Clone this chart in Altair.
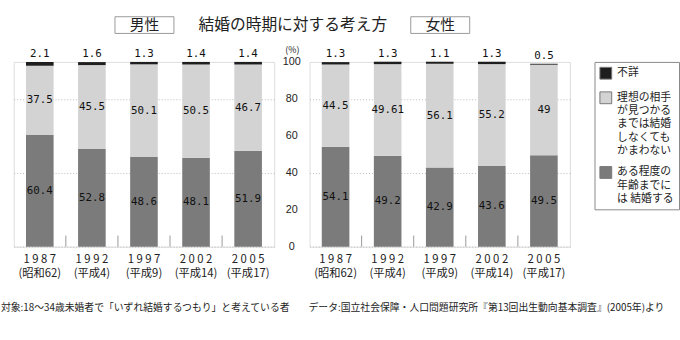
import altair as alt
import pandas as pd

FONT = "Noto Sans CJK JP"
NUMFONT = "DejaVu Sans Mono"

years = ["1987", "1992", "1997", "2002", "2005"]
eras = ["(昭和62)", "(平成4)", "(平成9)", "(平成14)", "(平成17)"]
categories = ["不詳",
              "理想の相手|が見つかる|までは結婚|しなくても|かまわない",
              "ある程度の|年齢までに|は 結婚する"]
male_unknown = [2.1, 1.6, 1.3, 1.4, 1.4]
male_ideal = [37.5, 45.5, 50.1, 50.5, 46.7]
male_someage = [60.4, 52.8, 48.6, 48.1, 51.9]
female_unknown = [1.3, 1.3, 1.1, 1.3, 0.5]
female_ideal = [44.5, 49.61, 56.1, 55.2, 49]
female_someage = [54.1, 49.2, 42.9, 43.6, 49.5]
y_ticks = [0, 20, 40, 60, 80, 100]
panel_names = ["男性", "女性"]
title_text = "結婚の時期に対する考え方"
note_left = "対象:18～34歳未婚者で「いずれ結婚するつもり」と考えている者"
note_right = "データ:国立社会保障・人口問題研究所『第13回出生動向基本調査』(2005年)より"
colors = ["#1e1e1e", "#d3d3d3", "#7b7b7b"]

W, H = 265, 188


def frame(unknown, ideal, someage):
    rows = []
    for i, y in enumerate(years):
        xl = " ".join(y) + "|" + eras[i]
        base = 0.0
        for cat, v, order in [(categories[2], someage[i], 0),
                              (categories[1], ideal[i], 1),
                              (categories[0], unknown[i], 2)]:
            rows.append(dict(x=xl, idx=i, cat=cat, v=v, y0=base, y1=base + v,
                             mid=base + v / 2, order=order, label=f"{v:g}"))
            base += v
    return pd.DataFrame(rows)


def panel(df, name, show_labels, note, note_x, extra=None):
    x_enc = alt.X("x:N", sort=None,
                  scale=alt.Scale(paddingInner=0.47, paddingOuter=0.235),
                  axis=alt.Axis(title=None, labelExpr="split(datum.label,'|')",
                                domain=False, ticks=False, labelAngle=0,
                                labelFont=FONT, labelFontSize=11.5,
                                labelLineHeight=14, labelPadding=7,
                                labelColor="#222", labelBaseline="top"))
    y_scale = alt.Scale(domain=[0, 100], nice=False)
    if show_labels:
        y_axis = alt.Axis(values=y_ticks, grid=True,
                          gridDash=[1, 2], gridColor="#bbbbbb", domain=False,
                          ticks=False, labels=False,
                          title="(%)", titleAngle=0, titleX=-18, titleY=-8,
                          titleAlign="center", titleBaseline="bottom",
                          titleFont=FONT, titleFontSize=9, titleFontWeight="normal",
                          titleColor="#222")
    else:
        y_axis = alt.Axis(values=y_ticks, grid=True,
                          gridDash=[1, 2], gridColor="#bbbbbb", domain=False,
                          ticks=False, labels=False, title=None)
    base = alt.Chart(df)
    bars = base.mark_bar().encode(
        x=x_enc,
        y=alt.Y("y0:Q", scale=y_scale, axis=y_axis),
        y2="y1:Q",
        color=alt.Color("cat:N",
                        scale=alt.Scale(domain=categories, range=colors),
                        legend=alt.Legend(title=None, orient="none",
                                          legendX=591, legendY=0,
                                          labelExpr="split(datum.label,'|')",
                                          symbolType="square", symbolSize=144,
                                          symbolStrokeColor="#777",
                                          symbolStrokeWidth=1,
                                          labelFont=FONT, labelFontSize=11,
                                          labelBaseline="middle",
                                          labelColor="#222",
                                          rowPadding=8, padding=5,
                                          strokeColor="#888",
                                          labelLimit=200, labelOffset=5)),
    )
    seg_text = base.transform_filter("datum.order < 2").mark_text(
        font=NUMFONT, fontSize=11, color="#111").encode(
        x=alt.X("x:N", sort=None), y="mid:Q", text="label:N")
    top_text = base.transform_filter("datum.order == 2").mark_text(
        font=NUMFONT, fontSize=11, color="#111", baseline="bottom", dy=-3).encode(
        x=alt.X("x:N", sort=None), y="y1:Q", text="label:N")
    ticks = base.transform_filter("datum.order == 0 && datum.idx > 0").mark_rule(
        color="#999", xOffset=-12.45).encode(
        x=alt.X("x:N", sort=None, bandPosition=0),
        y=alt.datum(0), y2=alt.datum(6))
    tdf = pd.DataFrame({"t": [name]})
    tbox = alt.Chart(tdf).mark_rect(fill="white", stroke="#999", strokeWidth=1).encode(
        x=alt.value(103), x2=alt.value(163), y=alt.value(-46), y2=alt.value(-29))
    ttext = alt.Chart(tdf).mark_text(font=FONT, fontSize=15, color="#222").encode(
        x=alt.value(133), y=alt.value(-37.5), text="t:N")
    ndf = pd.DataFrame({"t": [note]})
    ntext = alt.Chart(ndf).mark_text(font=FONT, fontSize=10, color="#222",
                                     align="left").encode(
        x=alt.value(note_x), y=alt.value(250), text="t:N")
    layers = [bars, ticks, seg_text, top_text, tbox, ttext, ntext]
    if show_labels:
        ydf = pd.DataFrame({"v": y_ticks, "s": [str(v) for v in y_ticks]})
        ylab = alt.Chart(ydf).mark_text(font="Liberation Sans", fontSize=11,
                                        color="#222", align="center",
                                        baseline="middle").encode(
            x=alt.value(-18), y=alt.Y("v:Q"), text="s:N")
        layers.append(ylab)
    if extra is not None:
        layers += extra
    return alt.layer(*layers).properties(width=W, height=H)


left_df = frame(male_unknown, male_ideal, male_someage)
right_df = frame(female_unknown, female_ideal, female_someage)

one = pd.DataFrame({"t": [title_text]})
main_title = alt.Chart(one).mark_text(font=FONT, fontSize=16, color="#222").encode(
    x=alt.value(284), y=alt.value(-37.5), text="t:N")
frame_rect = alt.Chart(pd.DataFrame({"a": [0]})).mark_rect(
    fillOpacity=0, strokeOpacity=0).encode(
    x=alt.value(-13), x2=alt.value(667), y=alt.value(-59), y2=alt.value(281))

left = panel(left_df, panel_names[0], False, note_left, -13,
             extra=[main_title, frame_rect])
right = panel(right_df, panel_names[1], True, note_right, -1)

chart = alt.hconcat(left, right, spacing=36, bounds="flush").properties(
    padding=0, background="white"
).configure_view(stroke="#999", strokeWidth=1).configure(
    style={"guide-label": {"lineHeight": 13.5}})

chart.save("out.html", embed_options={"renderer": "svg", "actions": False})
